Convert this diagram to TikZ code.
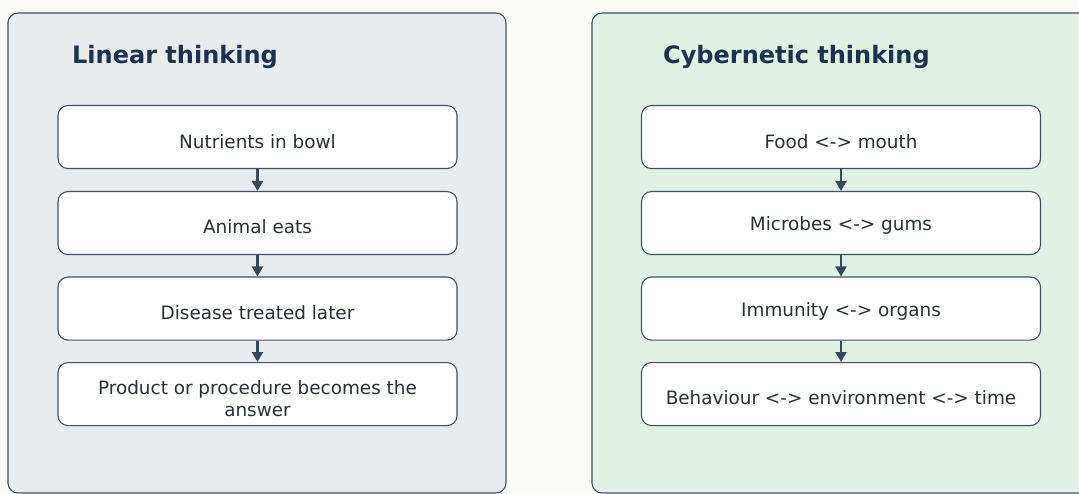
\documentclass[tikz,border=0pt]{standalone}
\usepackage{fontspec}
\setmainfont{DejaVu Sans}
\usetikzlibrary{arrows.meta}
\definecolor{bgc}{HTML}{F9FAF5}
\definecolor{leftfill}{HTML}{E8ECEF}
\definecolor{rightfill}{HTML}{DFF2E4}
\definecolor{edgec}{HTML}{3E5066}
\definecolor{titlec}{HTML}{1B3350}
\definecolor{textc}{HTML}{2A2F36}
\definecolor{arrowc}{HTML}{34495E}
\tikzset{
  panel/.style={draw=edgec, line width=1.1pt, rounded corners=10pt},
  stepbox/.style={draw=edgec, fill=white, line width=1.1pt, rounded corners=10pt,
    minimum width=399pt, minimum height=63pt, inner sep=0pt, anchor=north},
  boxtext/.style={text=textc, font=\fontsize{18.4}{22}\selectfont, align=center, inner sep=0pt},
  paneltitle/.style={text=titlec, font=\fontsize{24}{28}\selectfont\bfseries, anchor=base west, inner sep=0pt},
  flow/.style={draw=arrowc, line width=2.2pt, -{Triangle[width=11pt,length=10pt]}}
}
\begin{document}
\begin{tikzpicture}[x=1pt,y=-1pt]
\useasboundingbox (0,0) rectangle (1079,494);
\fill[bgc] (0,0) rectangle (1079,494);
% panels
\draw[panel, fill=leftfill] (8,13) rectangle (506,493);
\draw[panel, fill=rightfill] (592,13) rectangle (1092,493);
\node[paneltitle] (lt) at (72,64) {Linear thinking};
\node[paneltitle] (ct) at (663,64) {Cybernetic thinking};
% left boxes
\node[stepbox] (l1) at (257.5,105) {};
\node[stepbox] (l2) at (257.5,191) {};
\node[stepbox] (l3) at (257.5,276.5) {};
\node[stepbox] (l4) at (257.5,362) {};
\node[boxtext] (lt1) at ([yshift=-4.5pt]l1.center) {Nutrients in bowl};
\node[boxtext] (lt2) at ([yshift=-4pt]l2.center) {Animal eats};
\node[boxtext] (lt3) at ([yshift=-4pt]l3.center) {Disease treated later};
\node[boxtext] (lt4) at ([yshift=-5pt]l4.center) {Product or procedure becomes the\\answer};
\draw[flow] (l1.south) -- (l2.north);
\draw[flow] (l2.south) -- (l3.north);
\draw[flow] (l3.south) -- (l4.north);
% right boxes
\node[stepbox] (r1) at (841,105) {};
\node[stepbox] (r2) at (841,191) {};
\node[stepbox] (r3) at (841,276.5) {};
\node[stepbox] (r4) at (841,362) {};
\node[boxtext] (rt1) at ([yshift=-4.5pt]r1.center) {Food <-> mouth};
\node[boxtext] (rt2) at ([yshift=-2.5pt]r2.center) {Microbes <-> gums};
\node[boxtext] (rt3) at ([yshift=-2.5pt]r3.center) {Immunity <-> organs};
\node[boxtext] (rt4) at ([yshift=-4pt]r4.center) {Behaviour <-> environment <-> time};
\draw[flow] (r1.south) -- (r2.north);
\draw[flow] (r2.south) -- (r3.north);
\draw[flow] (r3.south) -- (r4.north);
\end{tikzpicture}
\end{document}
